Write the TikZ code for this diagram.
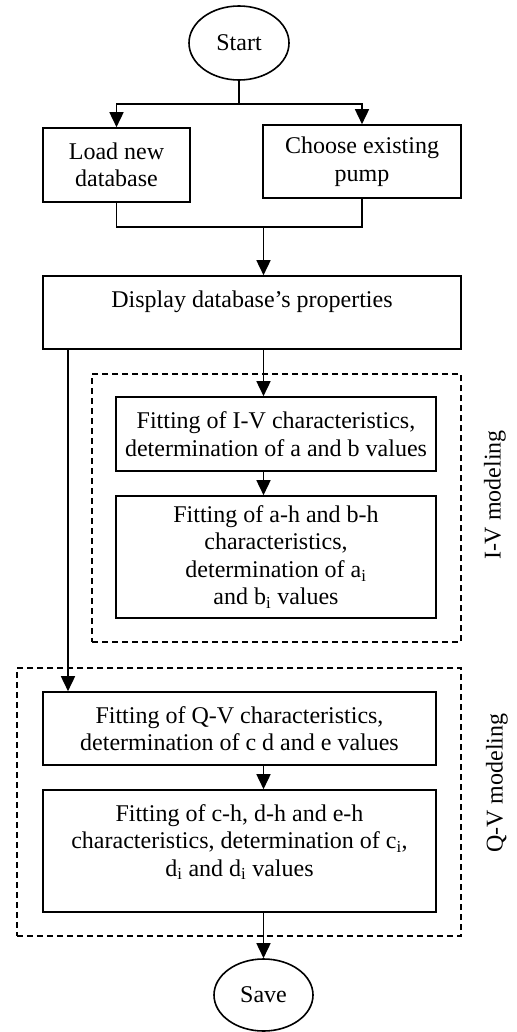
\documentclass[tikz,border=0pt]{standalone}
\usepackage{fontspec}
\setmainfont{Liberation Serif}
\usetikzlibrary{arrows.meta,shapes.geometric,calc}
\begin{document}
\begin{tikzpicture}[x=1pt,y=-1pt,
  every node/.style={font=\fontsize{24}{27.5}\selectfont},
  box/.style={draw,line width=1.6pt,rectangle,inner sep=0pt,align=center},
  term/.style={draw,line width=1.6pt,ellipse,inner sep=0pt},
  arr/.style={line width=1.6pt,-{Triangle[length=15pt,width=14pt]}},
  ln/.style={line width=1.6pt},
  dbox/.style={draw,line width=1.3pt,dash pattern=on 6pt off 4pt,inner sep=0pt},
  side/.style={rotate=90,inner sep=0pt}]
\useasboundingbox (0,0) rectangle (516,1032);
% dashed group frames
\node[dbox, minimum width=369pt, minimum height=268pt] (ivz) at (276.5,508) {};
\node[dbox, minimum width=444pt, minimum height=268pt] (qvz) at (239,802) {};
\node[side] (ivl) at (495,495) {I-V modeling};
\node[side] (qvl) at (497,783) {Q-V modeling};
% nodes
\node[term, minimum width=100pt, minimum height=74pt] (start) at (239,43) {Start};
\node[box, minimum width=147pt, minimum height=74pt] (load) at (116.5,165) {Load new\\database};
\node[box, minimum width=198pt, minimum height=73pt] (choose) at (362,161.5) {Choose existing\\pump};
\node[box, minimum width=418pt, minimum height=73pt] (disp) at (252,312.5) {Display database’s properties\\\mbox{}};
\node[box, minimum width=320pt, minimum height=74pt] (iv1) at (276,434) {Fitting of I-V characteristics,\\determination of a and b values};
\node[box, minimum width=320pt, minimum height=122pt] (iv2) at (276,557) {Fitting of a-h and b-h\\characteristics,\\determination of a\textsubscript{i}\\and b\textsubscript{i} values};
\node[box, minimum width=393pt, minimum height=73pt] (qv1) at (239.5,728.5) {Fitting of Q-V characteristics,\\determination of c d and e values};
\node[box, minimum width=393pt, minimum height=122pt] (qv2) at (239.5,851) {};
\node[align=center, inner sep=0pt] (qv2t) at (239.5,842) {Fitting of c-h, d-h and e-h\\characteristics, determination of c\textsubscript{i},\\d\textsubscript{i} and d\textsubscript{i} values};
\node[term, minimum width=99pt, minimum height=72pt] (save) at (263.5,995) {Save};
% connectors
\coordinate (j1) at (239,104);
\draw[ln] (start.south) -- (j1);
\draw[arr] (j1) -| (load.north);
\draw[arr] (j1) -| (choose.north);
\coordinate (j2) at (263.5,227);
\draw[ln] (load.south) |- (j2) -| (choose.south);
\draw[arr] (j2) -- (disp.north -| j2);
\coordinate (col) at (263.5,0);
\draw[arr] (disp.south -| col) -- (iv1.north -| col);
\draw[arr] (iv1.south -| col) -- (iv2.north -| col);
\coordinate (lc) at (68,0);
\draw[arr] (disp.south -| lc) -- (qv1.north -| lc);
\draw[arr] (qv1.south -| col) -- (qv2.north -| col);
\draw[arr] (qv2.south -| col) -- (save.north);
\end{tikzpicture}
\end{document}
